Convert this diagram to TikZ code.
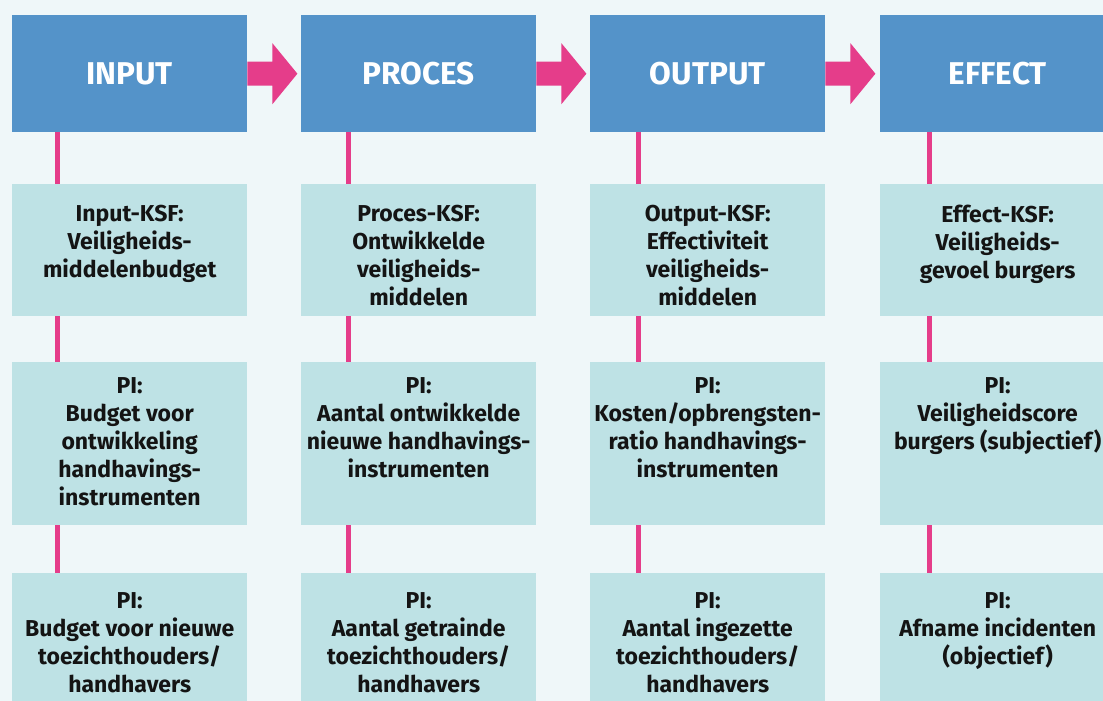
\documentclass[tikz,border=0pt]{standalone}
\usepackage{fontspec}
\setmainfont{Fira Sans}
\definecolor{bg}{HTML}{EFF7F9}
\definecolor{hblue}{HTML}{5493C9}
\definecolor{pink}{HTML}{E53D8A}
\definecolor{teal}{HTML}{BEE2E5}
\definecolor{ink}{HTML}{141414}
\tikzset{
  hdr/.style={rectangle,fill=hblue,minimum width=235pt,minimum height=117pt,inner sep=0pt,anchor=north west,
    text=white,font=\fontsize{31.5}{34}\selectfont\bfseries},
  kbox/.style={rectangle,fill=teal,minimum width=235pt,inner sep=0pt,anchor=north west},
  ktext/.style={align=center,anchor=north,inner sep=0pt,text=ink,font=\fontsize{23}{28}\selectfont\bfseries},
  conn/.style={draw=pink,line width=5pt},
  harrow/.style={fill=pink,draw=none}
}
\begin{document}
\begin{tikzpicture}[x=1pt,y=-1pt]
\fill[bg] (0,0) rectangle (1103,701);
\useasboundingbox (0,0) rectangle (1103,701);
\clip (0,0) rectangle (1103,701);
% columns
\foreach \i/\x/\lab in {1/12/INPUT,2/301/PROCES,3/590/OUTPUT,4/880/EFFECT}{
  \node[hdr] (h\i) at (\x,15) {\lab};
  \node[kbox,minimum height=132pt] (a\i) at (\x,184) {};
  \node[kbox,minimum height=163pt] (b\i) at (\x,362) {};
  \node[kbox,minimum height=160pt] (c\i) at (\x,573) {};
}
% connectors
\foreach \i/\d in {1/45.5,2/47,3/48,4/49}{
  \draw[conn] ([xshift=\d pt]h\i.south west) -- ([xshift=\d pt]a\i.north west);
  \draw[conn] ([xshift=\d pt]a\i.south west) -- ([xshift=\d pt]b\i.north west);
  \draw[conn] ([xshift=\d pt]b\i.south west) -- ([xshift=\d pt]c\i.north west);
}
% arrows between headers
\foreach \i in {1,2,3}{
  \coordinate (s\i) at (h\i.east);
  \fill[harrow] ([yshift=12pt]s\i) -- ++(25,0) -- ++(0,-18.5) -- ++(25,30.5) -- ++(-25,30.5) -- ++(0,-18.5) -- ++(-25,0) -- cycle;
}
% texts
\node[ktext] (ta1) at ([yshift=-20.5pt]a1.north) {Input-KSF:\\Veiligheids-\\middelenbudget};
\node[ktext] (ta2) at ([yshift=-20.5pt]a2.north) {Proces-KSF:\\Ontwikkelde\\veiligheids-\\middelen};
\node[ktext] (ta3) at ([yshift=-20.5pt]a3.north) {Output-KSF:\\Effectiviteit\\veiligheids-\\middelen};
\node[ktext] (ta4) at ([yshift=-20.5pt]a4.north) {Effect-KSF:\\Veiligheids-\\gevoel burgers};
\node[ktext] (tb1) at ([yshift=-15pt]b1.north) {PI:\\Budget voor\\ontwikkeling\\handhavings-\\instrumenten};
\node[ktext] (tb2) at ([yshift=-15pt]b2.north) {PI:\\Aantal ontwikkelde\\nieuwe handhavings-\\instrumenten};
\node[ktext] (tb3) at ([yshift=-15pt]b3.north) {PI:\\Kosten/opbrengsten-\\ratio handhavings-\\instrumenten};
\node[ktext] (tb4) at ([yshift=-15pt]b4.north) {PI:\\Veiligheidscore\\burgers (subjectief)};
\node[ktext] (tc1) at ([yshift=-19pt]c1.north) {PI:\\Budget voor nieuwe\\toezichthouders/\\handhavers};
\node[ktext] (tc2) at ([yshift=-19pt]c2.north) {PI:\\Aantal getrainde\\toezichthouders/\\handhavers};
\node[ktext] (tc3) at ([yshift=-19pt]c3.north) {PI:\\Aantal ingezette\\toezichthouders/\\handhavers};
\node[ktext] (tc4) at ([yshift=-19pt]c4.north) {PI:\\Afname incidenten\\(objectief)};
\end{tikzpicture}
\end{document}
